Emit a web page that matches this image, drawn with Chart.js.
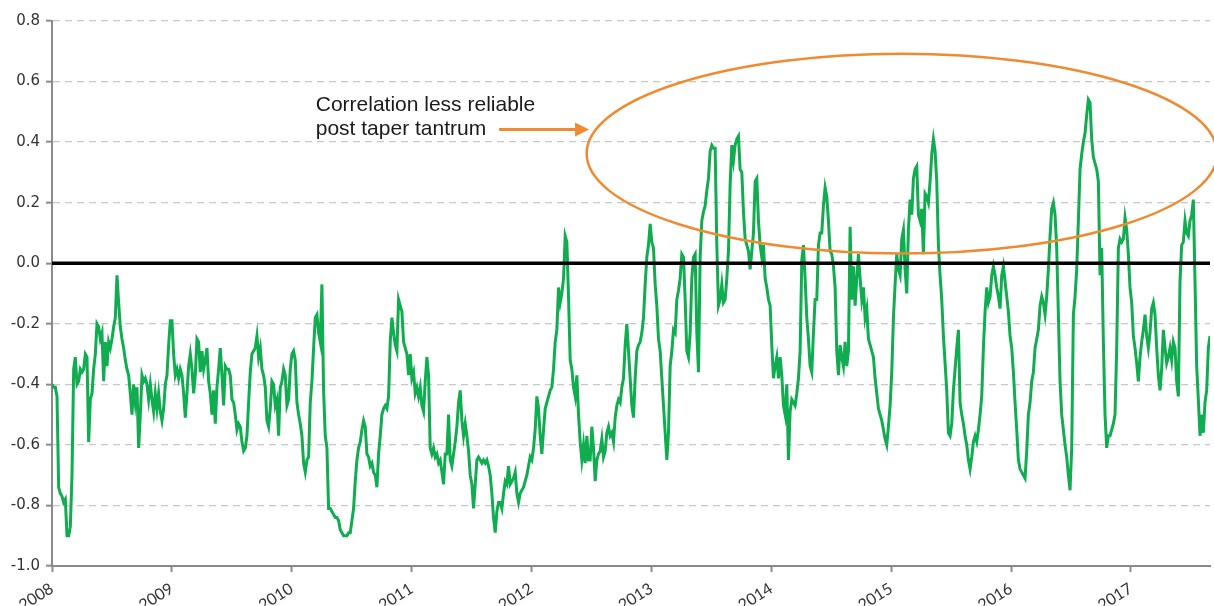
<!DOCTYPE html>
<html>
<head>
<meta charset="utf-8">
<title>Correlation</title>
<script src="https://cdn.jsdelivr.net/npm/chart.js@4.4.1/dist/chart.umd.min.js"></script>
<style>
  html, body { margin: 0; padding: 0; background: #fff; overflow: hidden; }
  #wrap { width: 1214px; height: 640px; }
</style>
</head>
<body>
<div id="wrap"><canvas id="corrChart"></canvas></div>
<script>
// observations are evenly spaced from the start of 2008 to late Aug 2017
const firstDate = 2008.0;
const lastDate = 2017.66;

const correlation = [
  -0.40,-0.41,-0.41,-0.44,-0.74,-0.76,-0.77,-0.79,-0.78,-0.90,
  -0.90,-0.87,-0.70,-0.35,-0.31,-0.40,-0.39,-0.35,-0.36,-0.35,
  -0.30,-0.31,-0.59,-0.45,-0.43,-0.35,-0.30,-0.20,-0.21,-0.25,
  -0.23,-0.39,-0.26,-0.34,-0.26,-0.28,-0.25,-0.21,-0.18,-0.04,
  -0.13,-0.21,-0.25,-0.28,-0.32,-0.35,-0.37,-0.43,-0.50,-0.40,
  -0.46,-0.41,-0.61,-0.50,-0.37,-0.39,-0.38,-0.40,-0.45,-0.40,
  -0.45,-0.49,-0.43,-0.48,-0.43,-0.49,-0.52,-0.48,-0.40,-0.37,
  -0.27,-0.19,-0.19,-0.30,-0.37,-0.35,-0.38,-0.35,-0.37,-0.43,
  -0.51,-0.43,-0.34,-0.30,-0.35,-0.43,-0.37,-0.25,-0.26,-0.36,
  -0.29,-0.35,-0.32,-0.28,-0.39,-0.43,-0.50,-0.42,-0.53,-0.41,
  -0.35,-0.28,-0.37,-0.47,-0.34,-0.35,-0.35,-0.37,-0.45,-0.46,
  -0.50,-0.55,-0.53,-0.54,-0.59,-0.62,-0.61,-0.57,-0.46,-0.36,
  -0.30,-0.29,-0.28,-0.24,-0.31,-0.28,-0.35,-0.37,-0.41,-0.52,
  -0.54,-0.48,-0.39,-0.40,-0.47,-0.45,-0.57,-0.41,-0.39,-0.35,
  -0.37,-0.47,-0.45,-0.35,-0.30,-0.29,-0.32,-0.46,-0.50,-0.53,
  -0.57,-0.66,-0.69,-0.65,-0.64,-0.46,-0.39,-0.28,-0.18,-0.17,
  -0.23,-0.26,-0.07,-0.42,-0.57,-0.61,-0.81,
  // 2010 - 2012
  -0.81,-0.82,-0.83,-0.84,-0.84,-0.85,-0.88,-0.89,-0.90,-0.90,
  -0.90,-0.89,-0.89,-0.85,-0.81,-0.72,-0.65,-0.61,-0.59,-0.55,
  -0.52,-0.54,-0.63,-0.64,-0.67,-0.66,-0.69,-0.70,-0.74,-0.63,
  -0.57,-0.50,-0.48,-0.47,-0.48,-0.44,-0.26,-0.18,-0.23,-0.27,
  -0.29,-0.12,-0.14,-0.16,-0.26,-0.28,-0.30,-0.37,-0.30,-0.38,
  -0.36,-0.43,-0.41,-0.44,-0.41,-0.47,-0.49,-0.39,-0.31,-0.37,
  -0.61,-0.63,-0.61,-0.64,-0.63,-0.66,-0.65,-0.69,-0.73,-0.63,
  -0.63,-0.50,-0.65,-0.67,-0.63,-0.59,-0.54,-0.46,-0.42,-0.52,
  -0.57,-0.53,-0.57,-0.62,-0.70,-0.73,-0.81,-0.73,-0.65,-0.64,
  -0.65,-0.66,-0.65,-0.66,-0.65,-0.67,-0.70,-0.76,-0.84,-0.89,
  -0.82,-0.79,-0.79,-0.81,-0.76,-0.72,-0.73,-0.67,-0.73,-0.72,
  -0.71,-0.69,-0.76,-0.79,-0.76,-0.75,-0.74,-0.72,-0.70,-0.67,
  -0.64,-0.65,-0.61,-0.55,-0.44,-0.48,-0.57,-0.63,-0.55,-0.48,
  -0.46,-0.44,-0.42,-0.41,-0.35,-0.26,-0.22,-0.08,-0.13,-0.10,
  -0.05, 0.09, 0.07,-0.11,-0.32,-0.35,-0.41,-0.44,-0.37,-0.50,
  -0.59,-0.65,-0.60,-0.66,-0.57,-0.65,-0.65,-0.54,-0.61,-0.72,
  -0.65,-0.63,-0.62,
  // 2012 - 2015
  -0.58,-0.64,-0.62,-0.56,-0.54,-0.57,-0.56,-0.59,-0.51,-0.47,
  -0.45,-0.46,-0.41,-0.38,-0.27,-0.20,-0.29,-0.38,-0.47,-0.51,
  -0.38,-0.29,-0.27,-0.26,-0.23,-0.18,-0.07, 0.02, 0.06, 0.13,
   0.07, 0.05,-0.07,-0.14,-0.25,-0.29,-0.38,-0.47,-0.56,-0.65,
  -0.56,-0.34,-0.29,-0.22,-0.23,-0.12,-0.09,-0.05, 0.03, 0.02,
  -0.12,-0.29,-0.31,-0.23,-0.05, 0.02, 0.03,-0.23,-0.36, 0.02,
   0.14, 0.17, 0.19, 0.24, 0.28, 0.37, 0.39, 0.38, 0.38, 0.06,
  -0.14,-0.12,-0.07,-0.13,-0.12,-0.05, 0.04, 0.26, 0.39, 0.34,
   0.39, 0.41, 0.42, 0.31, 0.30, 0.17, 0.08, 0.06, 0.04,-0.02,
   0.04, 0.10, 0.27, 0.28, 0.14, 0.06, 0.02, 0.06,-0.05,-0.08,
  -0.12,-0.14,-0.27,-0.38,-0.34,-0.31,-0.38,-0.31,-0.37,-0.47,
  -0.50,-0.40,-0.65,-0.49,-0.45,-0.46,-0.47,-0.43,-0.38,-0.29,
   0.01, 0.06,-0.05,-0.18,-0.25,-0.34,-0.36,-0.23,-0.12,-0.12,
   0.06, 0.10, 0.10, 0.19, 0.25, 0.22, 0.14, 0.04, 0.03,-0.01,
  -0.08,-0.29,-0.37,-0.27,-0.31,-0.34,-0.26,-0.34,-0.29, 0.12,
  -0.12,-0.01,-0.14,-0.05, 0.03,-0.05,-0.12,-0.08,-0.18,-0.15,
  -0.25,-0.27,-0.29,-0.31,-0.38,-0.43,-0.48,-0.50,-0.52,-0.55,
  -0.58,-0.60,-0.54,-0.47,-0.36,-0.18,
  // 2015 - 2017
  -0.07, 0.03,-0.02,-0.04, 0.08, 0.11,-0.02,-0.10, 0.11, 0.21,
   0.16, 0.28, 0.31, 0.32, 0.16, 0.14, 0.18, 0.03, 0.23, 0.22,
   0.20, 0.27, 0.36, 0.41, 0.37, 0.27, 0.06,-0.04,-0.12,-0.24,
  -0.33,-0.42,-0.56,-0.57,-0.53,-0.42,-0.35,-0.28,-0.22,-0.46,
  -0.50,-0.53,-0.57,-0.60,-0.65,-0.68,-0.64,-0.59,-0.57,-0.59,
  -0.55,-0.50,-0.44,-0.28,-0.16,-0.08,-0.13,-0.11,-0.04,-0.01,
  -0.04,-0.08,-0.11,-0.15,-0.04,-0.01,-0.06,-0.11,-0.16,-0.24,
  -0.28,-0.36,-0.46,-0.55,-0.65,-0.68,-0.69,-0.70,-0.71,-0.62,
  -0.50,-0.46,-0.39,-0.36,-0.28,-0.25,-0.22,-0.14,-0.11,-0.13,
  -0.17,-0.11,-0.02, 0.09, 0.18, 0.20, 0.16, 0.05,-0.17,-0.39,
  -0.50,-0.55,-0.60,-0.64,-0.70,-0.75,-0.61,-0.17,-0.11,-0.02,
   0.14, 0.31, 0.36, 0.40, 0.43, 0.49, 0.54, 0.53, 0.41, 0.35,
   0.33, 0.31, 0.27,-0.04, 0.05,-0.26,-0.50,-0.61,-0.57,-0.57,
  -0.55,-0.53,-0.50,-0.28, 0.05, 0.08, 0.07, 0.08, 0.15, 0.11,
   0.03,-0.08,-0.13,-0.24,-0.28,-0.33,-0.39,-0.31,-0.26,-0.22,
  -0.17,-0.24,-0.28,-0.23,-0.15,-0.13,-0.17,-0.28,-0.37,-0.42,
  -0.35,-0.22,-0.28,-0.33,-0.31,-0.28,-0.32,-0.26,-0.28,-0.39,
  -0.44,-0.06, 0.06, 0.07, 0.14, 0.10, 0.09, 0.14, 0.16, 0.21,
  -0.06,-0.34,-0.45,-0.57,-0.50,-0.56,-0.46,-0.42,-0.28,-0.24
];

const yearTicks = [2008, 2009, 2010, 2011, 2012, 2013, 2014, 2015, 2016, 2017];
const valueTicks = [-1.0, -0.8, -0.6, -0.4, -0.2, 0.0, 0.2, 0.4, 0.6, 0.8];

// annotation, placed in data units
const noteLines = ['Correlation less reliable', 'post taper tantrum'];
const noteYear = 2010.2;
const noteValues = [0.503, 0.424];
const arrowYears = [2011.73, 2012.48];
const arrowValue = 0.442;
const ring = { year: 2015.09, value: 0.362, halfYears: 2.63, halfValue: 0.33 };

const dates = correlation.map((_, i) => firstDate + i * (lastDate - firstDate) / (correlation.length - 1));

const axisGrey = '#8a8a8a';
const orange = '#f08a30';

const notes = {
  id: 'notes',
  afterDatasetsDraw(chart) {
    const { ctx, scales: { x, y } } = chart;
    ctx.save();

    // ring round the post-2013 period
    const cx = x.getPixelForValue(ring.year);
    const cy = y.getPixelForValue(ring.value);
    const rx = x.getPixelForValue(ring.year + ring.halfYears) - cx;
    const ry = cy - y.getPixelForValue(ring.value + ring.halfValue);
    ctx.strokeStyle = orange;
    ctx.lineWidth = 2.5;
    ctx.beginPath();
    ctx.ellipse(cx, cy, rx, ry, 0, 0, Math.PI * 2);
    ctx.stroke();

    // arrow
    const ax1 = x.getPixelForValue(arrowYears[0]);
    const ax2 = x.getPixelForValue(arrowYears[1]);
    const ay = y.getPixelForValue(arrowValue);
    ctx.lineWidth = 3;
    ctx.beginPath();
    ctx.moveTo(ax1, ay);
    ctx.lineTo(ax2 - 12, ay);
    ctx.stroke();
    ctx.fillStyle = orange;
    ctx.beginPath();
    ctx.moveTo(ax2, ay);
    ctx.lineTo(ax2 - 14, ay - 7);
    ctx.lineTo(ax2 - 14, ay + 7);
    ctx.closePath();
    ctx.fill();

    // text
    ctx.fillStyle = '#1a1a1a';
    ctx.font = '21px "Liberation Sans", Arial, sans-serif';
    ctx.textAlign = 'left';
    ctx.textBaseline = 'alphabetic';
    noteLines.forEach((t, i) => {
      ctx.fillText(t, x.getPixelForValue(noteYear), y.getPixelForValue(noteValues[i]));
    });
    ctx.restore();
  }
};

new Chart(document.getElementById('corrChart'), {
  type: 'line',
  data: {
    datasets: [
      {
        label: 'zero',
        data: [{ x: firstDate, y: 0 }, { x: lastDate, y: 0 }],
        borderColor: '#000',
        borderWidth: 3.5,
        pointRadius: 0,
        order: 0
      },
      {
        label: 'Correlation',
        data: dates.map((d, i) => ({ x: d, y: correlation[i] })),
        borderColor: '#10ad50',
        borderWidth: 3,
        pointRadius: 0,
        tension: 0,
        order: 1
      }
    ]
  },
  options: {
    responsive: true,
    maintainAspectRatio: false,
    animation: false,
    layout: { padding: { top: 21, right: 4, left: 0, bottom: 0 } },
    plugins: { legend: { display: false }, tooltip: { enabled: false } },
    scales: {
      x: {
        type: 'linear',
        min: firstDate,
        max: lastDate,
        afterBuildTicks: s => { s.ticks = yearTicks.map(v => ({ value: v })); },
        afterFit: s => { s.height = 74; },
        grid: { drawOnChartArea: false, tickLength: 6, tickColor: axisGrey, tickWidth: 2 },
        border: { color: axisGrey, width: 2 },
        ticks: {
          minRotation: 32,
          maxRotation: 32,
          padding: 7,
          color: '#333',
          font: { family: 'Lato', size: 16 },
          callback: v => String(v)
        }
      },
      y: {
        min: -1,
        max: 0.8,
        afterBuildTicks: s => { s.ticks = valueTicks.map(v => ({ value: v })); },
        afterFit: s => { s.width = 52; },
        grid: { color: '#c8c8c8', lineWidth: 1.3, tickLength: 6, tickColor: axisGrey, tickWidth: 2 },
        border: { color: axisGrey, width: 2, dash: [7, 5] },
        ticks: {
          padding: 6,
          color: '#333',
          font: { family: 'DejaVu Sans', size: 15 },
          callback: v => v.toFixed(1)
        }
      }
    }
  },
  plugins: [notes]
});
</script>
</body>
</html>
